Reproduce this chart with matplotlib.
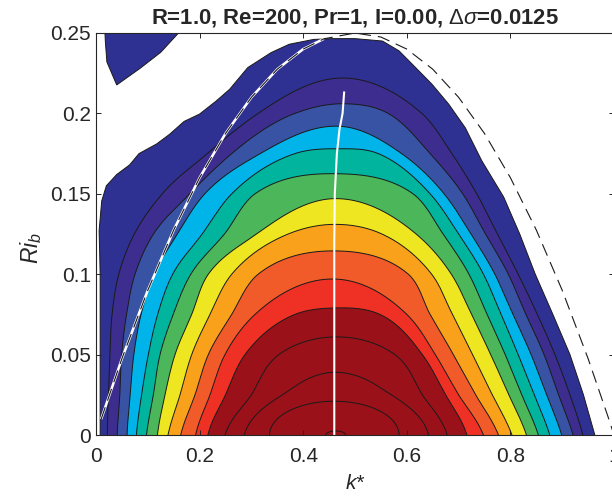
import numpy as np
import matplotlib
matplotlib.use("Agg")
import matplotlib.pyplot as plt
from matplotlib.patches import Polygon

plt.rcParams['font.family'] = ['Liberation Sans', 'DejaVu Sans']
plt.rcParams['mathtext.fontset'] = 'custom'
plt.rcParams['mathtext.rm'] = 'Liberation Sans'
plt.rcParams['mathtext.it'] = 'Liberation Sans:italic'
plt.rcParams['mathtext.bf'] = 'Liberation Sans:bold'
plt.rcParams['lines.scale_dashes'] = False

# ---------------- data ----------------
# Ri rows at which the contour crossings were read
RI_ROWS = [0.0, 0.025, 0.05, 0.075, 0.10, 0.125, 0.15, 0.175, 0.20]

# outermost contour (level 1), traced as an irregular outline (k, Ri)
OUTER_K = [0.008, 0.008, 0.008, 0.007, 0.006, 0.011, 0.020, 0.040, 0.065, 0.083,
           0.117, 0.142, 0.170, 0.200, 0.232, 0.258, 0.293, 0.338, 0.373, 0.420,
           0.456, 0.500, 0.553, 0.585, 0.617, 0.649, 0.681, 0.713, 0.745, 0.787,
           0.818, 0.848, 0.882, 0.915, 0.941, 0.963]
OUTER_RI = [0.000, 0.050, 0.100, 0.115, 0.127, 0.1455, 0.155, 0.162, 0.168, 0.175,
            0.181, 0.187, 0.195, 0.1996, 0.2077, 0.215, 0.2285, 0.2378, 0.243, 0.246,
            0.2465, 0.2465, 0.245, 0.2389, 0.2285, 0.218, 0.2057, 0.191, 0.1704, 0.148,
            0.125, 0.100, 0.075, 0.050, 0.025, 0.000]

# isolated patch in the upper-left corner
ISLAND_K = [0.017, 0.018, 0.021, 0.040, 0.085, 0.125, 0.165]
ISLAND_RI = [0.252, 0.245, 0.232, 0.2177, 0.228, 0.238, 0.252]

# levels 2..15: left / right k of the contour at each RI_ROWS value below its peak
LEFT_K = [
    [0.022, 0.024, 0.027, 0.031, 0.044, 0.074, 0.128, 0.215, 0.313],
    [0.041, 0.046, 0.0495, 0.059, 0.0753, 0.111, 0.181, 0.262, 0.384],
    [0.060, 0.066, 0.073, 0.087, 0.112, 0.157, 0.210, 0.317],
    [0.078, 0.088, 0.101, 0.119, 0.148, 0.205, 0.262, 0.384],
    [0.0975, 0.1107, 0.1236, 0.149, 0.183, 0.248, 0.307],
    [0.1186, 0.1332, 0.1525, 0.1847, 0.2168, 0.310],
    [0.139, 0.1622, 0.1847, 0.220, 0.262, 0.371],
    [0.1635, 0.1911, 0.2168, 0.262, 0.313],
    [0.1923, 0.2201, 0.249, 0.307],
    [0.216, 0.250, 0.2876, 0.384],
    [0.249, 0.300, 0.353],
    [0.2865, 0.360],
    [0.335],
    [0.4436],
]
RIGHT_K = [
    [0.940, 0.915, 0.886, 0.852, 0.815, 0.775, 0.735, 0.687, 0.629],
    [0.921, 0.893, 0.865, 0.830, 0.796, 0.752, 0.708, 0.645, 0.564],
    [0.899, 0.870, 0.840, 0.805, 0.770, 0.724, 0.672, 0.590],
    [0.876, 0.846, 0.815, 0.782, 0.748, 0.700, 0.645, 0.545],
    [0.854, 0.822, 0.790, 0.755, 0.720, 0.670, 0.612],
    [0.831, 0.797, 0.762, 0.725, 0.686, 0.618],
    [0.803, 0.765, 0.727, 0.688, 0.648, 0.552],
    [0.777, 0.733, 0.690, 0.645, 0.603],
    [0.748, 0.700, 0.655, 0.600],
    [0.716, 0.675, 0.630, 0.548],
    [0.678, 0.630, 0.577],
    [0.642, 0.570],
    [0.585],
    [0.482],
]
PEAK_K = [0.480, 0.477, 0.471, 0.466, 0.463, 0.461, 0.460, 0.460, 0.460, 0.460,
          0.460, 0.460, 0.460, 0.463]
PEAK_RI = [0.222, 0.206, 0.192, 0.178, 0.1625, 0.147, 0.131, 0.1145, 0.097, 0.079,
           0.061, 0.039, 0.021, 0.0025]

BAND_COLORS = ['#2E3192', '#3D2D8E', '#3953A4', '#00B3E9', '#00B49D', '#4BB75A',
               '#EEE620', '#F9A11B', '#F15A29', '#EE3124', '#9B1119', '#9B1119',
               '#9B1119', '#9B1119', '#9B1119']

# line of maximum growth (white, near-vertical)
MAXG_K = [0.460, 0.460, 0.461, 0.465, 0.470, 0.476, 0.479]
MAXG_RI = [0.0, 0.12, 0.15, 0.175, 0.19, 0.20, 0.213]

# neutral curve (dashed)
NEUT_K = [0.01, 0.05, 0.10, 0.15, 0.20, 0.25, 0.30, 0.35, 0.40, 0.44, 0.50, 0.55,
          0.60, 0.65, 0.70, 0.75, 0.80, 0.85, 0.90, 0.95, 0.99, 1.0]
NEUT_RI = [0.0099, 0.0475, 0.090, 0.1275, 0.160, 0.1875, 0.210, 0.2275, 0.240, 0.2464,
           0.250, 0.2475, 0.240, 0.2275, 0.210, 0.1875, 0.160, 0.1275, 0.090, 0.0475,
           0.0099, 0.0]
N_WHITE = 10  # first points of the neutral curve that also carry the white line

XTICKS = [0, 0.2, 0.4, 0.6, 0.8, 1.0]
XTICKLABELS = ['0', '0.2', '0.4', '0.6', '0.8', '1']
YTICKS = [0, 0.05, 0.10, 0.15, 0.20, 0.25]
YTICKLABELS = ['0', '0.05', '0.1', '0.15', '0.2', '0.25']

TITLE = r'R=1.0, Re=200, Pr=1, I=0.00, $\Delta\sigma$=0.0125'


def hermite(x, y, xq):
    """Smooth (Catmull-Rom style) curve through the read points, for drawing."""
    x = np.asarray(x, float)
    y = np.asarray(y, float)
    n = len(x)
    m = np.zeros(n)
    if n > 2:
        m[1:-1] = (y[2:] - y[:-2]) / (x[2:] - x[:-2])
    m[0] = (y[1] - y[0]) / (x[1] - x[0])
    m[-1] = (y[-1] - y[-2]) / (x[-1] - x[-2])
    idx = np.clip(np.searchsorted(x, xq) - 1, 0, n - 2)
    h = x[idx + 1] - x[idx]
    t = (xq - x[idx]) / h
    h00 = 2 * t**3 - 3 * t**2 + 1
    h10 = t**3 - 2 * t**2 + t
    h01 = -2 * t**3 + 3 * t**2
    h11 = t**3 - t**2
    return h00 * y[idx] + h10 * h * m[idx] + h01 * y[idx + 1] + h11 * h * m[idx + 1]


def arch(pts, n=300):
    """Draw a contour arch through read points, smoothed in polar form."""
    P = np.asarray(pts, float)
    l0, r0 = P[0, 0], P[-1, 0]
    c = 0.5 * (l0 + r0)
    a = 0.5 * (r0 - l0)
    b = P[:, 1].max()
    u = (P[:, 0] - c) / a
    v = P[:, 1] / b
    th = np.arctan2(v, u)
    r = np.hypot(u, v)
    o = np.argsort(th)
    th, r = th[o], r[o]
    tt = np.linspace(th[0], th[-1], n)
    rr = hermite(th, r, tt)
    return c + a * rr * np.cos(tt), b * rr * np.sin(tt)


fig = plt.figure(figsize=(6.12, 4.98), dpi=100)
ax = fig.add_axes([96 / 612, 63 / 498, 518 / 612, 402 / 498])

# outer level
outer = [(OUTER_K[0], -0.01)] + list(zip(OUTER_K, OUTER_RI)) + [(OUTER_K[-1], -0.01)]
ax.add_patch(Polygon(outer, closed=True, facecolor=BAND_COLORS[0],
                     edgecolor='none', zorder=1))
ax.plot(OUTER_K, OUTER_RI, color='#1a1a1a', lw=0.7, zorder=3)
ax.add_patch(Polygon(list(zip(ISLAND_K, ISLAND_RI)), closed=True,
                     facecolor=BAND_COLORS[0], edgecolor='#1a1a1a', lw=0.7, zorder=1))

# inner levels
for i in range(len(LEFT_K)):
    lk, rk = LEFT_K[i], RIGHT_K[i]
    rows = RI_ROWS[:len(lk)]
    pts = list(zip(lk, rows)) + [(PEAK_K[i], PEAK_RI[i])] + list(zip(rk[::-1], rows[::-1]))
    kx, ry = arch(pts)
    poly = np.column_stack([np.r_[kx[0], kx, kx[-1]], np.r_[-0.01, ry, -0.01]])
    ax.add_patch(Polygon(poly, closed=True, facecolor=BAND_COLORS[i + 1],
                         edgecolor='none', zorder=1 + 0.01 * i))
    ax.plot(kx, ry, color='#1a1a1a', lw=0.7, zorder=3)

# maximum growth line
ax.plot(MAXG_K, MAXG_RI, color='white', lw=1.5, zorder=4)
# neutral curve
ax.plot(NEUT_K[:N_WHITE], NEUT_RI[:N_WHITE], color='white', lw=1.8, zorder=4,
        solid_capstyle='butt')
ax.plot(NEUT_K, NEUT_RI, color='#1a1a1a', lw=0.8, zorder=5,
        linestyle=(0, (9, 5)))

ax.set_xlim(0, 1)
ax.set_ylim(0, 0.25)
ax.set_xticks(XTICKS)
ax.set_xticklabels(XTICKLABELS)
ax.set_yticks(YTICKS)
ax.set_yticklabels(YTICKLABELS)
ax.tick_params(direction='in', length=3.6, width=0.7, top=True, right=True,
               labelsize=15, colors='#262626')
ax.tick_params(axis='x', pad=8.5)
ax.tick_params(axis='y', pad=3.5)
for s in ax.spines.values():
    s.set_linewidth(0.8)
    s.set_color('#262626')
    s.set_zorder(6)

ax.set_xlabel('k*', fontsize=15, style='italic', color='#262626', labelpad=6)
ax.set_ylabel(r'$Ri_b$', fontsize=16.5, color='#262626')
ax.yaxis.set_label_coords(-0.10, 0.465)
ax.set_title(TITLE, fontsize=15.9, fontweight='bold', color='#262626', pad=7)

fig.savefig('out.png', dpi=100)
